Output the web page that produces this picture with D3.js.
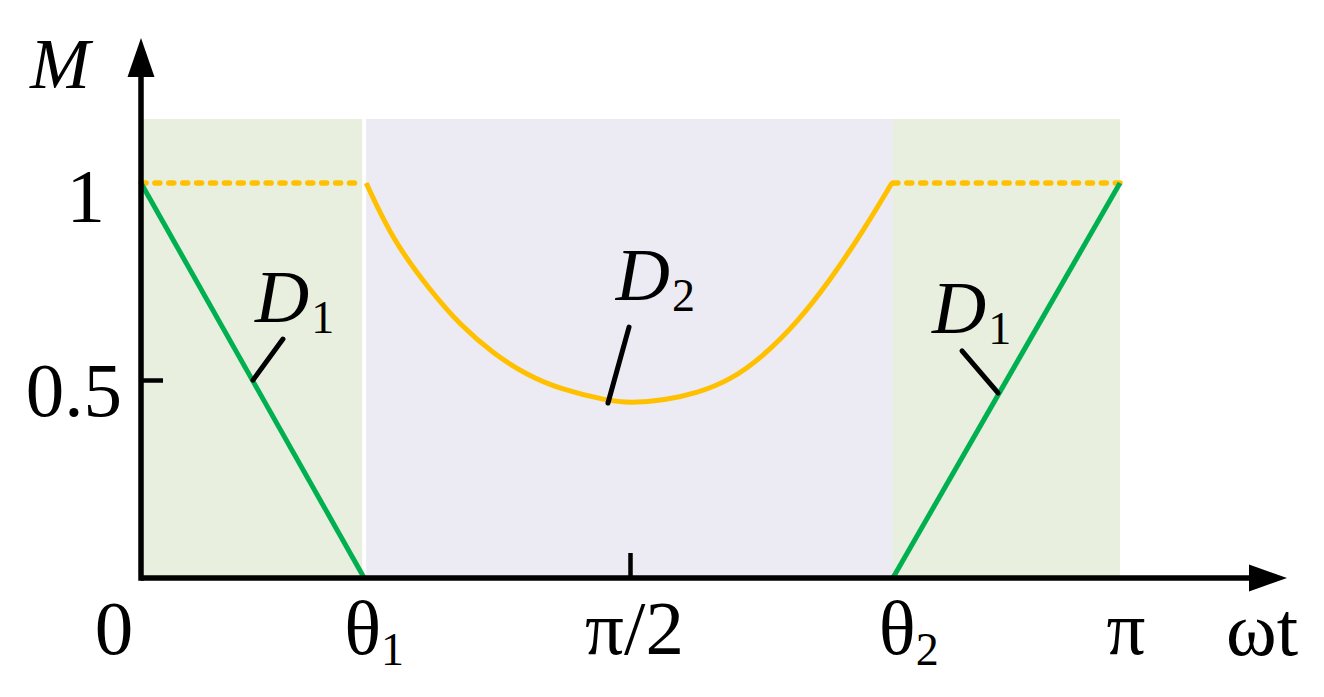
<!DOCTYPE html>
<html>
<head>
<meta charset="utf-8">
<script src="https://cdn.jsdelivr.net/npm/d3@7"></script>
<style>
  html, body { margin: 0; padding: 0; background: #fff; }
  svg { display: block; }
  text { font-family: "Liberation Serif", "Times New Roman", serif; fill: #000; }
</style>
</head>
<body>
<svg id="chart" width="1324" height="697"></svg>
<script>
// ---- data (x in units of π, y = M) ----
const theta1 = 0.228;
const theta2 = 0.768;
const xTickValues = [0, theta1, 0.5, theta2, 1];
const xTickLabels = [["0"], ["θ", "1"], ["π/2"], ["θ", "2"], ["π"]];
const yTickValues = [1, 0.5];
const yTickLabels = ["1", "0.5"];

// D1 (green straight lines)
const d1Left = [[0, 1], [theta1, 0]];
const d1Right = [[theta2, 0], [1, 1]];
// D2 (yellow curve)
const d2X = [0.230, 0.257, 0.295, 0.326, 0.360, 0.394, 0.428, 0.476, 0.500, 0.535, 0.568, 0.602, 0.635, 0.670, 0.704, 0.738, 0.767];
const d2Y = [1.000, 0.856, 0.729, 0.640, 0.568, 0.514, 0.478, 0.449, 0.443, 0.450, 0.468, 0.501, 0.560, 0.646, 0.754, 0.880, 1.000];
// dotted M = 1 segments
const dottedLeft = [[0, 1], [theta1 - 0.004, 1]];
const dottedRight = [[theta2, 1], [1, 1]];

// shaded bands
const bandTop = 1.162;
const bands = [
  { x0: 0, x1: theta1 - 0.002, color: "#E9EFDE" },
  { x0: theta1 + 0.002, x1: theta2, color: "#ECEAF2" },
  { x0: theta2, x1: 1, color: "#E9EFDE" }
];

// annotations (label anchor + leader line)
const annotations = [
  { main: "D", sub: "1", lx: 0.1165, ly: 0.648, line: [[0.145, 0.605], [0.1144, 0.501]] },
  { main: "D", sub: "2", lx: 0.4850, ly: 0.704, line: [[0.4985, 0.635], [0.477, 0.443]] },
  { main: "D", sub: "1", lx: 0.8080, ly: 0.620, line: [[0.8386, 0.5747], [0.8754, 0.4684]] }
];

// ---- drawing ----
const svg = d3.select("#chart");
const x = d3.scaleLinear().domain([0, 1]).range([141, 1120]);
const y = d3.scaleLinear().domain([0, 1]).range([578, 183]);

const GREEN = "#00B050", YELLOW = "#FFC000";
const LW = 5;

// bands
svg.selectAll("rect.band").data(bands).join("rect")
  .attr("class", "band")
  .attr("x", d => x(d.x0))
  .attr("width", d => x(d.x1) - x(d.x0))
  .attr("y", y(bandTop))
  .attr("height", y(0) - y(bandTop))
  .attr("fill", d => d.color);

const line = d3.line().x(d => x(d[0])).y(d => y(d[1]));

// dotted lines
[dottedLeft, dottedRight].forEach(seg => {
  svg.append("path").attr("d", line(seg))
    .attr("fill", "none").attr("stroke", YELLOW).attr("stroke-width", LW + 0.5)
    .attr("stroke-linecap", "round").attr("stroke-dasharray", "5 8.9");
});

// D2 curve
const d2 = d2X.map((v, i) => [v, d2Y[i]]);
svg.append("path").attr("d", d3.line().x(d => x(d[0])).y(d => y(d[1])).curve(d3.curveBasis)(d2))
  .attr("fill", "none").attr("stroke", YELLOW).attr("stroke-width", LW);

// D1 lines
[d1Left, d1Right].forEach(seg => {
  svg.append("path").attr("d", line(seg))
    .attr("fill", "none").attr("stroke", GREEN).attr("stroke-width", LW);
});

// leader lines
svg.selectAll("path.leader").data(annotations).join("path")
  .attr("class", "leader")
  .attr("d", d => line(d.line))
  .attr("stroke", "#000").attr("stroke-width", LW).attr("stroke-linecap", "round");

// annotation labels
annotations.forEach(a => {
  const t = svg.append("text").attr("x", x(a.lx)).attr("y", y(a.ly));
  t.append("tspan").attr("font-style", "italic").attr("font-size", 75).text(a.main);
  t.append("tspan").attr("font-size", 46).attr("dy", 11).attr("dx", 2).text(a.sub);
});

// axes
const axisG = svg.append("g");
axisG.append("line").attr("x1", x(0)).attr("x2", 1252).attr("y1", y(0)).attr("y2", y(0))
  .attr("stroke", "#000").attr("stroke-width", 5.5);
axisG.append("line").attr("x1", x(0)).attr("x2", x(0)).attr("y1", y(0) + 2.75).attr("y2", 75)
  .attr("stroke", "#000").attr("stroke-width", 5.5);
// arrowheads
axisG.append("path").attr("d", `M${x(0)},38 L${x(0) - 13.5},77 L${x(0) + 13.5},77 Z`).attr("fill", "#000");
axisG.append("path").attr("d", `M1287,${y(0)} L1249,${y(0) - 13.5} L1249,${y(0) + 13.5} Z`).attr("fill", "#000");

// small ticks
axisG.append("line").attr("x1", x(0)).attr("x2", x(0) + 22).attr("y1", y(0.5)).attr("y2", y(0.5))
  .attr("stroke", "#000").attr("stroke-width", 4.5);
axisG.append("line").attr("x1", x(0.5)).attr("x2", x(0.5)).attr("y1", y(0)).attr("y2", y(0) - 25)
  .attr("stroke", "#000").attr("stroke-width", 4.5);

// x tick labels
const xLabelOffsets = [-27, -20, 4, -14, 6];
xTickValues.forEach((v, i) => {
  const parts = xTickLabels[i];
  const t = svg.append("text").attr("y", 654).attr("font-size", 77);
  if (parts.length === 1) {
    t.attr("x", x(v) + xLabelOffsets[i]).attr("text-anchor", "middle").text(parts[0]);
  } else {
    t.attr("x", x(v) + xLabelOffsets[i]).attr("text-anchor", "start");
    t.append("tspan").text(parts[0]);
    t.append("tspan").attr("font-size", 46).attr("dy", 11).text(parts[1]);
  }
});

// y tick labels
yTickValues.forEach((v, i) => {
  svg.append("text").attr("x", i === 0 ? 105 : 122).attr("y", y(v) + (i === 0 ? 39 : 35))
    .attr("text-anchor", "end").attr("font-size", 77).text(yTickLabels[i]);
});

// axis titles
svg.append("text").attr("x", 30).attr("y", 88).attr("font-size", 72).attr("font-style", "italic").text("M");
svg.append("text").attr("x", 1226).attr("y", 655).attr("font-size", 77).text("ωt");
</script>
</body>
</html>
